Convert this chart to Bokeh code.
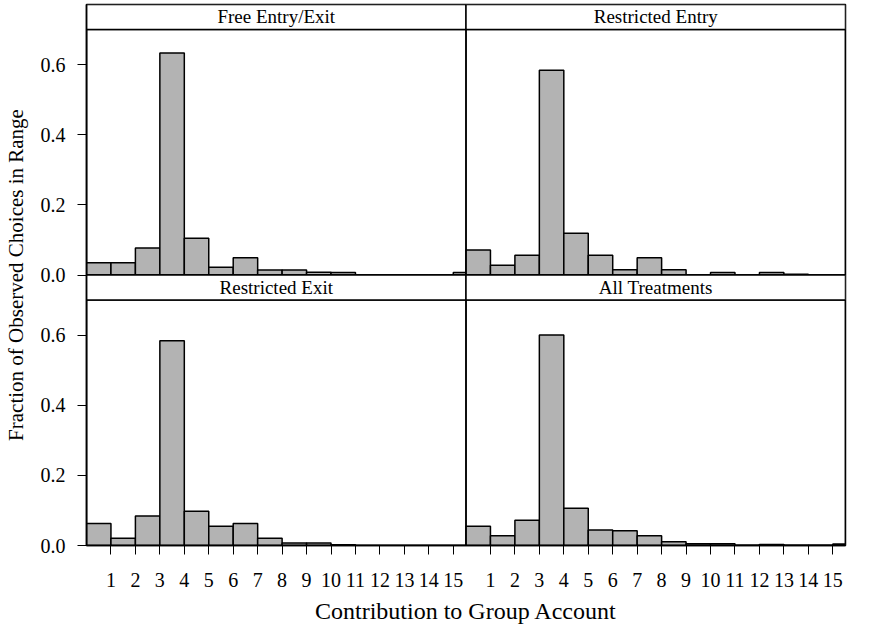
from bokeh.plotting import figure
from bokeh.models import Range1d, FixedTicker
from bokeh.embed import file_html
from bokeh.resources import INLINE

# ---- data (fractions per contribution bin [k, k+1)) ----
bins = list(range(16))
free_entry_exit = [0.035, 0.035, 0.077, 0.633, 0.105, 0.022, 0.049, 0.014, 0.014, 0.008,
                   0.007, 0.0, 0.0, 0.0, 0.0, 0.007]
restricted_entry = [0.071, 0.028, 0.056, 0.584, 0.119, 0.056, 0.015, 0.049, 0.015, 0.0,
                    0.007, 0.0, 0.007, 0.002, 0.0, 0.0]
restricted_exit = [0.063, 0.021, 0.084, 0.584, 0.098, 0.055, 0.063, 0.021, 0.007, 0.007,
                   0.002, 0.0, 0.0, 0.0, 0.0, 0.0]
all_treatments = [0.055, 0.028, 0.072, 0.600, 0.106, 0.044, 0.042, 0.028, 0.011, 0.005,
                  0.005, 0.001, 0.003, 0.001, 0.001, 0.004]
x_tick_labels = [str(i) for i in range(1, 16)]
y_tick_values = [0.0, 0.2, 0.4, 0.6]
y_tick_labels = ["0.0", "0.2", "0.4", "0.6"]

panels = [
    ("Free Entry/Exit", free_entry_exit, 0, 1),
    ("Restricted Entry", restricted_entry, 1, 1),
    ("Restricted Exit", restricted_exit, 0, 0),
    ("All Treatments", all_treatments, 1, 0),
]

# ---- layout constants ----
XW = 15.52      # x extent of one panel
PH = 0.70       # y extent of one panel
SH = 0.0712     # strip height in data units
FONT = "Liberation Serif"
BAR_FILL = "#b3b3b3"

p = figure(frame_width=759, frame_height=541, output_backend="svg", toolbar_location=None,
           x_range=Range1d(0, 2 * XW), y_range=Range1d(0, 2 * (PH + SH)),
           min_border_left=84, min_border_top=4, min_border_right=8, min_border_bottom=70)
p.background_fill_color = "white"
p.border_fill_color = "white"
p.grid.visible = False
p.outline_line_color = "black"
p.outline_line_width = 1.5

for title, vals, col, row in panels:
    ox = col * XW
    oy = row * (PH + SH)
    lefts = [b + ox for b in bins]
    rights = [min(b + 1, XW) + ox for b in bins]
    tops = [v + oy for v in vals]
    p.quad(left=lefts, right=rights, bottom=[oy] * len(bins), top=tops,
           fill_color=BAR_FILL, line_color="black", line_width=1.5)
    # panel box
    p.quad(left=[ox], right=[ox + XW], bottom=[oy], top=[oy + PH],
           fill_color=None, line_color="black", line_width=1.5)
    # strip
    p.quad(left=[ox], right=[ox + XW], bottom=[oy + PH], top=[oy + PH + SH],
           fill_color="white", line_color="black", line_width=1.5)
    p.text(x=[ox + XW / 2], y=[oy + PH + SH / 2], text=[title],
           text_font={"value": FONT}, text_font_size={"value": "19px"},
           text_align="center", text_baseline="middle", text_color="black")

# ---- axes ----
xt, xlab = [], {}
for col in range(2):
    for i, lab in zip(range(1, 16), x_tick_labels):
        v = round(col * XW + i, 6)
        xt.append(v)
        xlab[v] = lab
yt, ylab = [], {}
for row in range(2):
    for v0, lab in zip(y_tick_values, y_tick_labels):
        v = round(row * (PH + SH) + v0, 6)
        yt.append(v)
        ylab[v] = lab

p.xaxis.ticker = FixedTicker(ticks=xt, minor_ticks=[])
p.xaxis.major_label_overrides = xlab
p.yaxis.ticker = FixedTicker(ticks=yt, minor_ticks=[])
p.yaxis.major_label_overrides = ylab

for ax in (p.xaxis, p.yaxis):
    ax.major_tick_out = 9
    ax.major_tick_in = 0
    ax.minor_tick_line_color = None
    ax.major_tick_line_color = "black"
    ax.major_tick_line_width = 1
    ax.axis_line_color = "black"
    ax.axis_line_width = 1.5
    ax.major_label_text_font = FONT
    ax.major_label_text_font_size = "20px"
    ax.major_label_text_color = "black"
    ax.axis_label_text_font = FONT
    ax.axis_label_text_font_style = "normal"
    ax.axis_label_text_color = "black"

p.xaxis.axis_label = "Contribution to Group Account"
p.xaxis.axis_label_text_font_size = "24px"
p.xaxis.major_label_standoff = 18
p.xaxis.axis_label_standoff = 8
p.yaxis.axis_label = "Fraction of Observed Choices in Range"
p.yaxis.axis_label_text_font_size = "21px"
p.yaxis.major_label_standoff = 12
p.yaxis.axis_label_standoff = 10

open("out.html", "w").write(file_html(p, INLINE))
